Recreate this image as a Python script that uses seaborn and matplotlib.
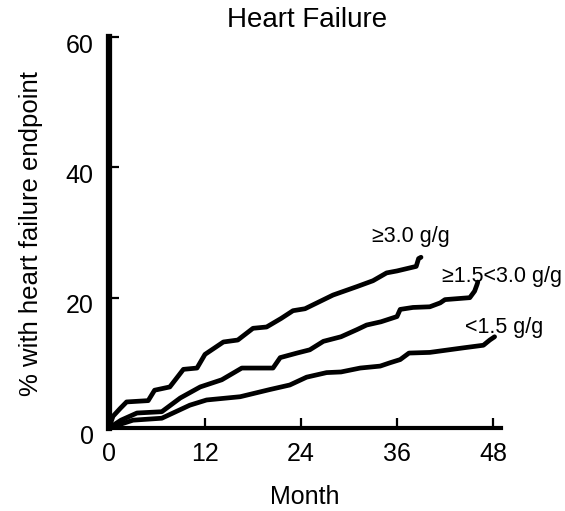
import matplotlib
matplotlib.use("Agg")
import numpy as np
import pandas as pd
import seaborn as sns
import matplotlib.pyplot as plt
from matplotlib.transforms import ScaledTranslation

# ---- data (vertices of each jagged curve) ----
high_month = [0, 0.5, 1.4, 2.2, 4.9, 5.7, 7.6, 9.3, 11.0, 12.0, 14.3, 16.1, 18.0,
              19.7, 21.5, 23.0, 24.5, 26.0, 28.0, 31.0, 33.0, 34.7, 36.0, 38.4,
              38.7, 39.0]
high_pct = [0, 1.8, 3.0, 4.0, 4.2, 5.8, 6.3, 9.0, 9.2, 11.3, 13.2, 13.5, 15.3,
            15.5, 16.8, 18.0, 18.3, 19.2, 20.4, 21.7, 22.6, 23.8, 24.1, 24.8,
            26.0, 26.2]

mid_month = [0, 1.5, 3.5, 6.6, 8.9, 11.4, 14.1, 16.6, 20.5, 21.4, 23.5, 25.1,
             26.8, 29.0, 31.0, 32.2, 34.0, 36.0, 36.4, 38.0, 40.1, 41.4, 42.0,
             45.1, 45.7, 46.0, 46.1]
mid_pct = [0, 1.2, 2.3, 2.5, 4.6, 6.3, 7.4, 9.2, 9.2, 10.8, 11.5, 12.0,
           13.3, 14.0, 15.1, 15.8, 16.3, 17.1, 18.2, 18.5, 18.6, 19.2, 19.7,
           20.0, 21.0, 22.0, 22.4]

low_month = [0, 1.5, 3.0, 6.6, 10.1, 12.2, 16.4, 20.1, 22.6, 24.7, 27.2, 29.0,
             31.4, 33.9, 35.1, 36.4, 37.5, 40.1, 44.3, 46.8, 47.6, 48.2]
low_pct = [0, 0.6, 1.2, 1.5, 3.5, 4.3, 4.8, 5.9, 6.6, 7.8, 8.5, 8.6,
           9.2, 9.5, 10.0, 10.5, 11.5, 11.6, 12.3, 12.7, 13.5, 14.0]

group_names = ["\u22653.0 g/g", "\u22651.5<3.0 g/g", "<1.5 g/g"]
x_ticks = [0, 12, 24, 36, 48]
y_ticks = [0, 20, 40, 60]

df = pd.concat([
    pd.DataFrame({"month": high_month, "pct": high_pct, "group": group_names[0]}),
    pd.DataFrame({"month": mid_month, "pct": mid_pct, "group": group_names[1]}),
    pd.DataFrame({"month": low_month, "pct": low_pct, "group": group_names[2]}),
], ignore_index=True)

sns.set_theme(style="white")
plt.rcParams["font.family"] = ["Liberation Sans", "DejaVu Sans"]

fig = plt.figure(figsize=(5.65, 5.11), dpi=100)
ax = fig.add_axes([109 / 565, 1 - 428 / 511, 392 / 565, 391 / 511])

sns.lineplot(data=df, x="month", y="pct", hue="group", hue_order=group_names,
             palette=["black"] * 3, estimator=None, sort=False,
             linewidth=3.4, legend=False, ax=ax)

ax.set_xlim(0, 49)
ax.set_ylim(0, 60)
ax.set_xticks(x_ticks)
ax.set_yticks(y_ticks)
ax.set_xticklabels([str(v) for v in x_ticks])
ax.set_yticklabels([str(v) for v in y_ticks])

for s in ["top", "right"]:
    ax.spines[s].set_visible(False)
ax.spines["left"].set_linewidth(4.5)
ax.spines["bottom"].set_linewidth(3)
ax.spines["left"].set_color("black")
ax.spines["bottom"].set_color("black")

ax.tick_params(axis="both", direction="in", length=7, width=1.6, color="black",
               labelsize=18, labelcolor="black", bottom=True, left=True)
ax.tick_params(axis="x", pad=10)
ax.tick_params(axis="y", pad=11)
for lbl in ax.get_yticklabels():
    lbl.set_transform(lbl.get_transform() + ScaledTranslation(0, -6 / 100, fig.dpi_scale_trans))

ax.set_xlabel("Month", fontsize=18, color="black")
ax.xaxis.set_label_coords(0.5, -0.176)
ax.xaxis.label.set_va("center")
ax.set_ylabel("% with heart failure endpoint", fontsize=18.5, color="black")
ax.yaxis.set_label_coords(-0.2, 0.497)
ax.yaxis.label.set_va("center")

ax.text(0.506, 1.043, "Heart Failure", transform=ax.transAxes, ha="center",
        va="center", fontsize=20, color="black")

label_pos = [(32.9, 29.4), (41.6, 23.2), (44.5, 15.4)]
for name, (lx, ly) in zip(group_names, label_pos):
    ax.text(lx, ly, name, ha="left", va="center", fontsize=15.5, color="black")

fig.savefig("out.png", dpi=100)
